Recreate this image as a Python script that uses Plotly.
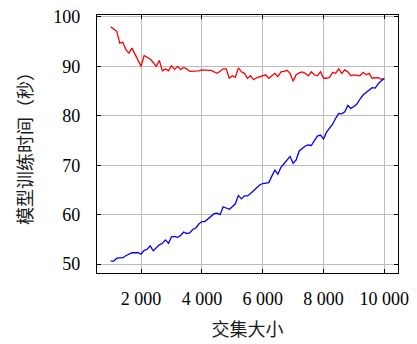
import plotly.graph_objects as go

x_values = list(range(1000, 10001, 100))

red_values = [
    98.0, 97.6, 97.1, 94.7, 94.9, 93.4, 92.7, 93.7, 92.5, 91.2,
    90.0, 92.2, 91.8, 91.5, 90.8, 90.0, 91.2, 89.1, 89.5, 89.1,
    90.1, 89.4, 90.0, 89.4, 89.8, 89.5, 89.0, 89.0, 89.0, 89.1,
    89.3, 89.2, 89.2, 89.2, 88.9, 88.6, 89.0, 89.5, 89.5, 87.6,
    88.1, 87.8, 89.7, 88.9, 88.6, 87.6, 88.1, 87.3, 87.7, 87.9,
    88.1, 88.3, 87.6, 88.1, 88.6, 87.9, 88.9, 89.0, 89.2, 88.6,
    87.0, 88.3, 88.7, 88.9, 88.6, 88.1, 88.9, 88.3, 88.1, 88.9,
    87.6, 87.6, 87.8, 88.8, 88.6, 89.5, 88.6, 89.3, 88.9, 88.1,
    88.3, 88.2, 88.1, 88.8, 88.3, 88.6, 87.6, 87.7, 87.7, 87.4,
    87.6,
]

blue_values = [
    50.6, 50.6, 51.2, 51.2, 51.3, 51.7, 52.0, 52.3, 52.3, 52.3,
    52.0, 52.8, 53.0, 53.7, 52.7, 53.3, 53.9, 54.2, 54.9, 54.2,
    55.5, 55.6, 55.4, 55.8, 56.5, 56.2, 56.3, 57.0, 57.3, 58.1,
    58.6, 58.6, 59.2, 59.8, 60.2, 60.3, 60.0, 61.6, 61.3, 61.1,
    61.6, 62.2, 63.9, 63.2, 63.8, 63.8, 64.3, 64.9, 65.3, 66.0,
    66.3, 66.4, 66.5, 67.8, 69.0, 68.2, 69.6, 70.3, 71.0, 71.8,
    70.4, 71.1, 72.9, 73.4, 73.9, 74.1, 74.0, 75.0, 75.9, 76.1,
    75.3, 76.7, 77.4, 78.3, 79.5, 80.5, 80.4, 80.8, 82.1, 81.5,
    81.9, 82.4, 83.4, 84.2, 84.7, 85.2, 85.7, 85.6, 86.5, 87.1,
    87.5,
]

x_tick_values = [2000, 4000, 6000, 8000, 10000]
x_tick_labels = ["2 000", "4 000", "6 000", "8 000", "10 000"]
y_tick_values = [50, 60, 70, 80, 90, 100]
y_tick_labels = ["50", "60", "70", "80", "90", "100"]

x_title = "交集大小"
y_title = "模型训练时间（秒）"

fig = go.Figure()
fig.add_trace(go.Scatter(x=x_values, y=red_values, mode="lines",
                         line=dict(color="#ff0000", width=1.3), showlegend=False))
fig.add_trace(go.Scatter(x=x_values, y=blue_values, mode="lines",
                         line=dict(color="#0000ff", width=1.3), showlegend=False))

num_font = dict(family="Liberation Serif, DejaVu Serif, serif", size=18, color="#000000")
cjk_font = dict(family="Noto Sans CJK SC, Noto Sans, sans-serif", size=18, color="#1a1a1a")

axis_common = dict(
    showline=True, linecolor="#000000", linewidth=1.2, mirror="ticks",
    ticks="inside", ticklen=4, tickcolor="#000000", tickwidth=1,
    showgrid=True, gridcolor="#bdbdbd", gridwidth=1, zeroline=False,
    tickfont=num_font, automargin=False,
)

fig.update_layout(
    width=417, height=344,
    margin=dict(l=97, r=19, t=15, b=71),
    paper_bgcolor="#ffffff", plot_bgcolor="#ffffff",
    xaxis=dict(range=[550, 10450], tickvals=x_tick_values, ticktext=x_tick_labels,
               ticklabelstandoff=9,
               title=dict(text=x_title, font=cjk_font, standoff=15), **axis_common),
    yaxis=dict(range=[48.2, 100.4], tickvals=y_tick_values, ticktext=y_tick_labels,
               ticklabelstandoff=12,
               title=dict(text=y_title, font=cjk_font, standoff=15), **axis_common),
)

fig.write_html("out.html", config={"displayModeBar": False},
               post_script="document.body.style.margin='0';document.body.style.overflow='hidden';")
